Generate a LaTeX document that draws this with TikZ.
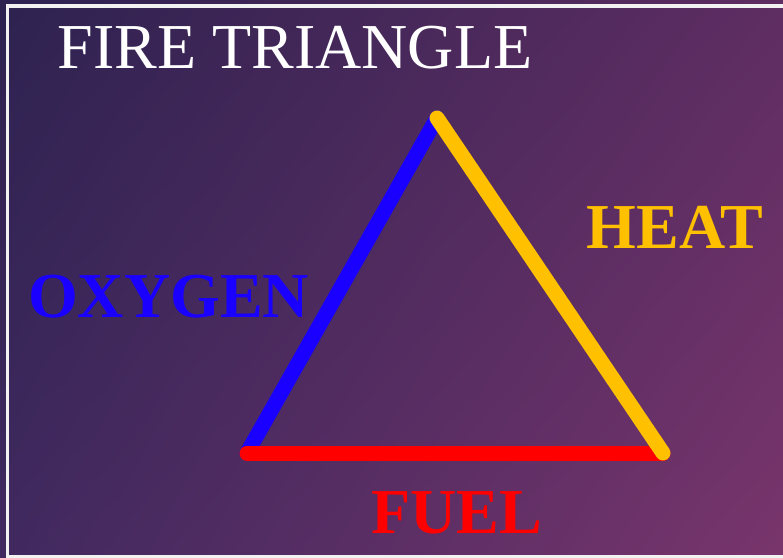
\documentclass[tikz,border=0pt]{standalone}
\usepackage{fontspec}
\setmainfont{Liberation Serif}
\usetikzlibrary{shadings}
\definecolor{bgTL}{HTML}{2D2250}
\definecolor{bgTR}{HTML}{5E2D62}
\definecolor{bgBL}{HTML}{40295F}
\definecolor{bgBR}{HTML}{78356C}
\definecolor{oxyblue}{HTML}{1A00FF}
\definecolor{heatgold}{HTML}{FFC000}
\definecolor{fuelred}{HTML}{FF0000}
\definecolor{frame}{HTML}{F2F2F2}
\tikzset{
  side/.style={line width=15pt, line cap=round},
  title/.style={text=white, font=\fontsize{64}{64}\selectfont, inner sep=0pt, anchor=base},
  label/.style={font=\bfseries\fontsize{64}{64}\selectfont, inner sep=0pt, anchor=base},
}
\begin{document}
\begin{tikzpicture}[x=1pt,y=-1pt]
\useasboundingbox (0,0) rectangle (783,557);
\shade[upper left=bgTL, upper right=bgTR, lower left=bgBL, lower right=bgBR] (0,0) rectangle (783,557);
\draw[frame, line width=3.5pt] (7.5,6) rectangle (800,556.5);
\node[title] (ttl) at (295,68) {FIRE TRIANGLE};
\coordinate (apex) at (437,118);
\coordinate (bl) at (247,453);
\coordinate (br) at (663,453);
\draw[side, oxyblue] (apex) -- (bl);
\draw[side, fuelred] (bl) -- (br);
\draw[side, heatgold] (apex) -- (br);
\node[label, text=oxyblue] (oxy) at (168.5,317) {OXYGEN};
\node[label, text=heatgold] (heat) at (675,248) {HEAT};
\node[label, text=fuelred] (fuel) at (456.5,533) {FUEL};
\end{tikzpicture}
\end{document}
